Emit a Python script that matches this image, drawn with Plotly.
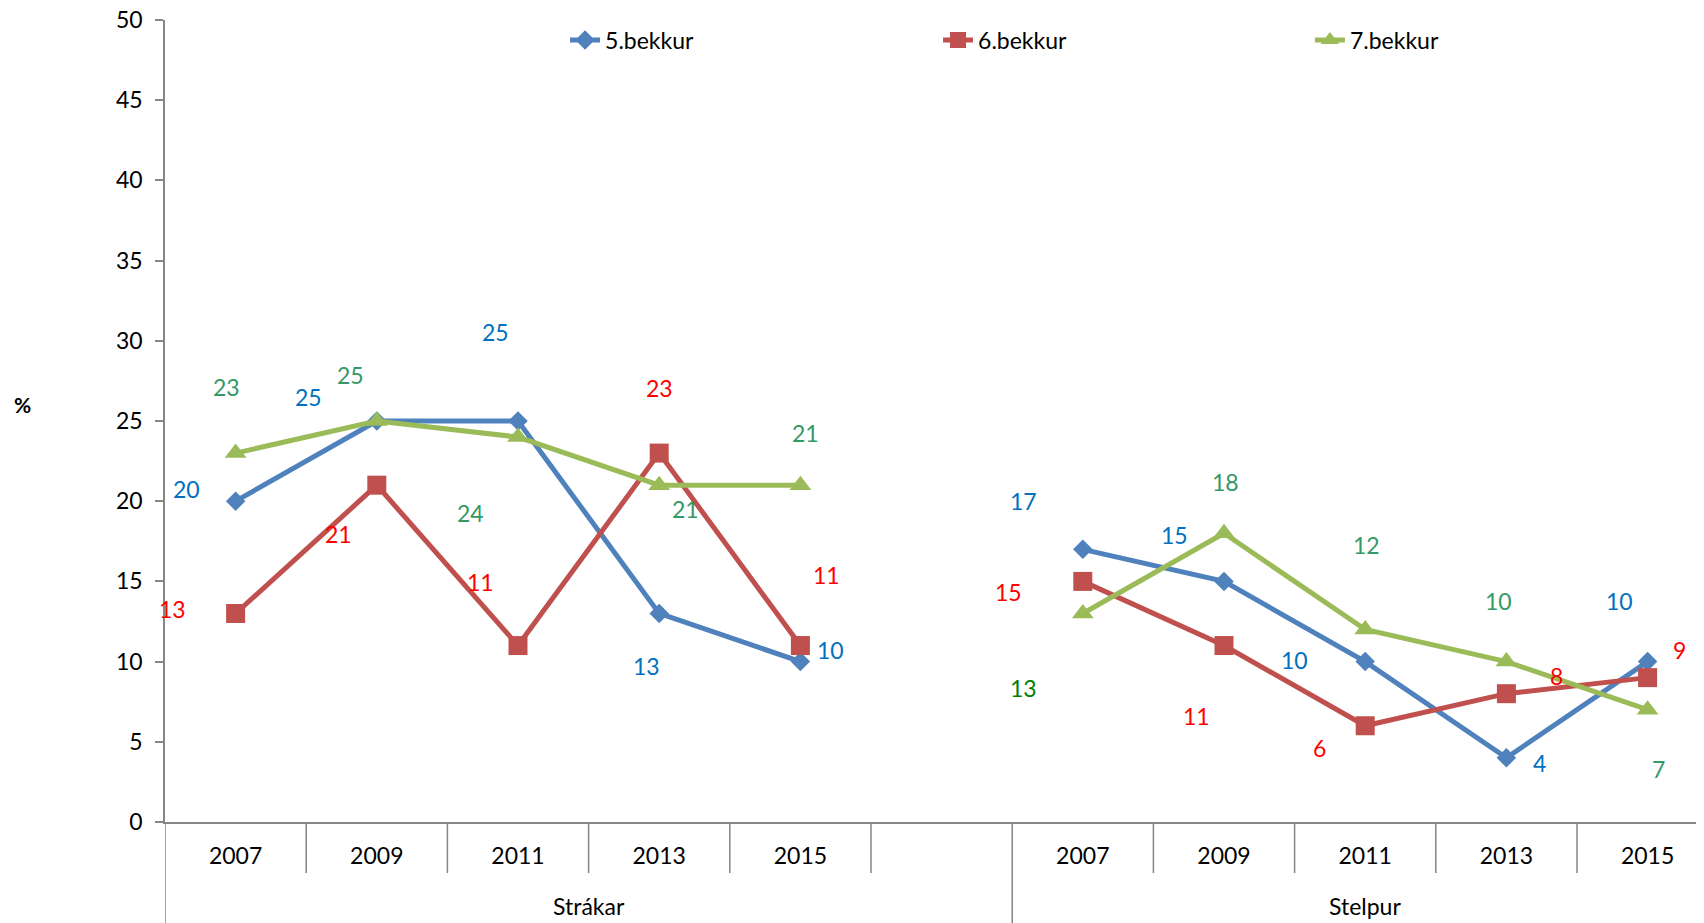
import plotly.graph_objects as go

years = ["2007", "2009", "2011", "2013", "2015"]
groups = ["Strákar", "Stelpur"]
series_names = ["5.bekkur", "6.bekkur", "7.bekkur"]

b5_strakar = [20, 25, 25, 13, 10]
b5_stelpur = [17, 15, 10, 4, 10]
b6_strakar = [13, 21, 11, 23, 11]
b6_stelpur = [15, 11, 6, 8, 9]
b7_strakar = [23, 25, 24, 21, 21]
b7_stelpur = [13, 18, 12, 10, 7]

# slot index positions: Strákar 0..4, empty slot 5, Stelpur 6..10
x_strakar = [0, 1, 2, 3, 4]
x_stelpur = [6, 7, 8, 9, 10]

line_colors = ["#4F81BD", "#C0504D", "#9BBB59"]
label_colors = ["#0070C0", "#FF0000", "#339966"]
symbols = ["diamond", "square", "triangle-up"]
msizes = [15, 19, 19]

# label offsets in px (dx, dy down positive)
offsets = [
    [(-49, -12), (-68, -24), (-23, -89), (-13, 53), (30, -12),
     (-59, -48), (-50, -46), (-71, -2), (33, 5), (-28, -61)],
    [(-63, -4), (-38, 49), (-38, -64), (0, -65), (26, -71),
     (-74, 11), (-28, 70), (-46, 22), (50, -18), (32, -28)],
    [(-9, -66), (-26, -46), (-48, 76), (26, 24), (5, -52),
     (-59, 75), (1, -51), (1, -85), (-8, -61), (11, 59)],
]

data = [
    (b5_strakar, b5_stelpur),
    (b6_strakar, b6_stelpur),
    (b7_strakar, b7_stelpur),
]

FONT = "Lato"
FS = 23
# page body margin offset (8px) is compensated in the margins
ML, MT, MB = 157, 12, 109
PW = 1704 - ML

legend_ids = ["legend", "legend2", "legend3"]
legend_x = [0.2586, 0.4997, 0.7401]

fig = go.Figure()
annotations = []
for k, (s1, s2) in enumerate(data):
    xs = x_strakar + [None] + x_stelpur
    ys = s1 + [None] + s2
    fig.add_trace(go.Scatter(
        x=xs, y=ys, mode="lines+markers", name=series_names[k],
        line=dict(color=line_colors[k], width=5),
        marker=dict(symbol=symbols[k], size=msizes[k], color=line_colors[k]),
        connectgaps=False, legend=legend_ids[k],
    ))
    allx = x_strakar + x_stelpur
    ally = s1 + s2
    for j, (xv, yv) in enumerate(zip(allx, ally)):
        dx, dy = offsets[k][j]
        col = label_colors[k]
        if k == 2 and j == 5:
            col = "#008000"
        annotations.append(dict(
            x=xv, y=yv, xref="x", yref="y", text=str(yv), showarrow=False,
            xshift=dx, yshift=-dy, font=dict(family=FONT, size=FS, color=col),
        ))

shapes = []
grey = "#868686"
for i in range(11):
    xpos = i - 0.5
    y0 = -0.14 if i in (0, 6) else -0.0636
    shapes.append(dict(type="line", xref="x", yref="paper", x0=xpos, x1=xpos,
                       y0=0, y1=y0, line=dict(color=grey, width=1.5)))

for g, cx in zip(groups, [2.5, 8]):
    annotations.append(dict(x=cx, y=-0.105, xref="x", yref="paper", text=g,
                            showarrow=False, yanchor="middle",
                            font=dict(family=FONT, size=FS, color="black")))

annotations.append(dict(x=(14 - ML) / PW, y=0.521, xref="paper", yref="paper",
                        text="<b>%</b>", showarrow=False, xanchor="center",
                        yanchor="middle",
                        font=dict(family=FONT, size=21, color="black")))

legend_common = dict(orientation="h", y=0.975, xanchor="left", yanchor="middle",
                     font=dict(family=FONT, size=FS, color="black"),
                     bgcolor="rgba(0,0,0,0)")

fig.update_layout(
    width=1704, height=923,
    margin=dict(l=ML, r=0, t=MT, b=MB, autoexpand=False),
    paper_bgcolor="white", plot_bgcolor="white",
    font=dict(family=FONT, size=FS, color="black"),
    showlegend=True,
    legend=dict(x=legend_x[0], **legend_common),
    legend2=dict(x=legend_x[1], **legend_common),
    legend3=dict(x=legend_x[2], **legend_common),
    annotations=annotations,
    shapes=shapes,
)
fig.update_xaxes(
    range=[-0.5, -0.5 + PW / 141.2], tickvals=x_strakar + x_stelpur,
    ticktext=years + years, automargin=False,
    showgrid=False, zeroline=False, showline=True, linecolor=grey, linewidth=2,
    ticks="", ticklabelstandoff=12, tickfont=dict(family=FONT, size=FS),
)
fig.update_yaxes(
    range=[0, 50], dtick=5, showgrid=False, zeroline=False, showline=True,
    linecolor=grey, linewidth=1.5, ticks="outside", ticklen=8, tickcolor=grey,
    tickwidth=1.5, ticklabelstandoff=8, tickfont=dict(family=FONT, size=FS),
    ticklabeloverflow="allow", automargin=False,
)

fig.write_html("out.html")
